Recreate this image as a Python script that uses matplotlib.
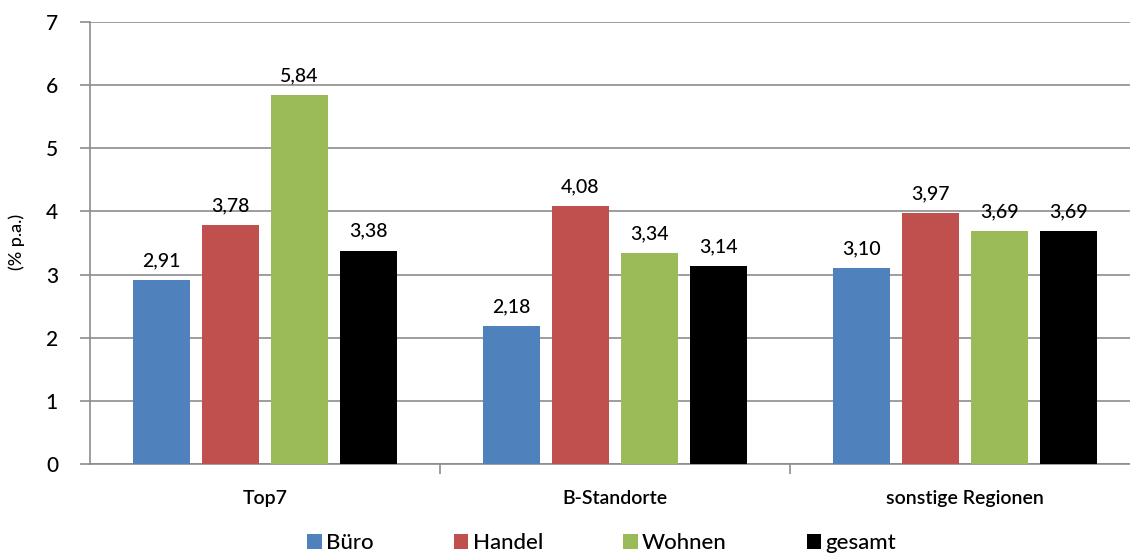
import matplotlib.pyplot as plt
import numpy as np

regions = ["Top7", "B-Standorte", "sonstige Regionen"]
series = ["Büro", "Handel", "Wohnen", "gesamt"]
buero = [2.91, 2.18, 3.10]
handel = [3.78, 4.08, 3.97]
wohnen = [5.84, 3.34, 3.69]
gesamt = [3.38, 3.14, 3.69]
colors = ["#4F81BD", "#C0504D", "#9BBB59", "#000000"]

values = [buero, handel, wohnen, gesamt]

fig = plt.figure(figsize=(11.3, 5.54), dpi=100)
# right edge runs off the figure like the original export
ax = fig.add_axes([90 / 1130, 90 / 554, 1050 / 1130, 442 / 554])

x = np.arange(len(regions))
width = 0.163
step = 0.197
for i, (name, vals) in enumerate(zip(series, values)):
    pos = x + (i - 1.5) * step
    bars = ax.bar(pos, vals, width, color=colors[i], label=name, zorder=3)
    for b, v in zip(bars, vals):
        ax.text(b.get_x() + b.get_width() / 2, v + 0.17, f"{v:.2f}".replace(".", ","),
                ha="center", va="bottom", fontsize=14, family="Lato", weight="medium")

ax.set_xlim(-0.5, 2.5)
ax.set_ylim(0, 7)
ax.set_yticks(range(0, 8))
ax.yaxis.grid(True, color="#8c8c8c", linewidth=1.2, zorder=0)
for lbl in ax.get_yticklabels():
    lbl.set_family("Lato")
    lbl.set_weight("medium")
ax.tick_params(axis="y", labelsize=15, length=7, color="#8c8c8c", width=1.2, pad=16)

# category separators as minor ticks
ax.set_xticks(x)
ax.set_xticklabels(regions, fontsize=14, family="Lato", weight="semibold")
ax.set_xticks([0.5, 1.5], minor=True)
ax.tick_params(axis="x", which="major", length=0, pad=19)
ax.tick_params(axis="x", which="minor", length=7, color="#8c8c8c", width=1.2)

for s in ["top", "right"]:
    ax.spines[s].set_visible(False)
for s in ["left", "bottom"]:
    ax.spines[s].set_color("#8c8c8c")
    ax.spines[s].set_linewidth(1.2)

fig.text(17 / 1130, 1 - 242 / 554, "(% p.a.)", rotation=90, ha="center", va="center",
         fontsize=13, family="Lato", weight="medium")

fig.legend(loc="center", bbox_to_anchor=(602 / 1130, 1 - 543 / 554), ncol=4,
           frameon=False, prop={"family": "Lato", "size": 16, "weight": "medium"},
           handlelength=0.65, handleheight=0.65, handletextpad=0.2, columnspacing=3.6)

fig.savefig("out.png", dpi=100)
